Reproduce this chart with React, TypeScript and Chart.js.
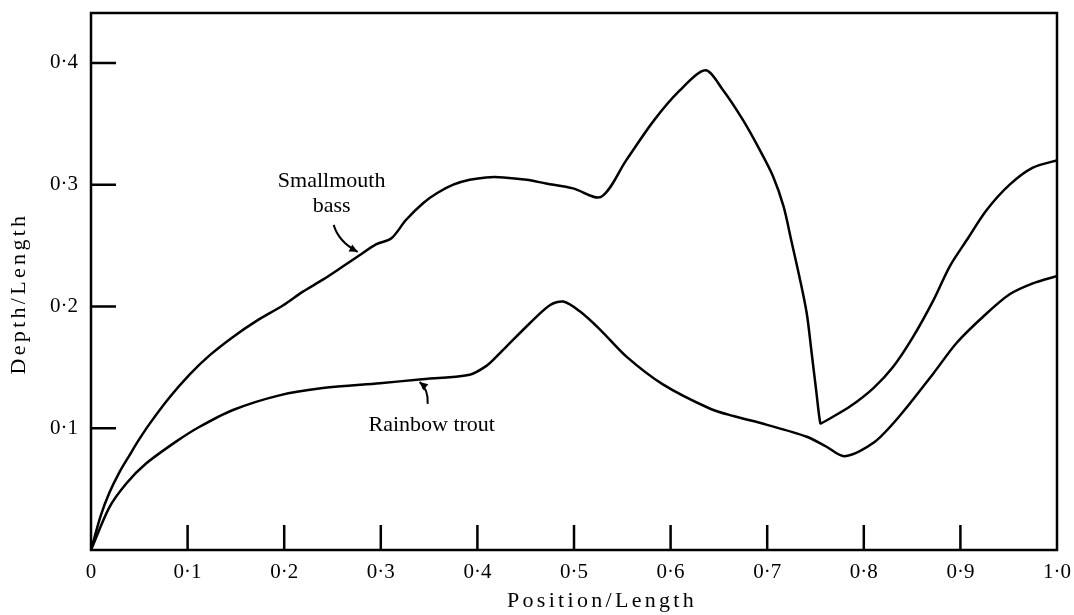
import React, { useEffect, useRef } from 'react';
import { Chart, registerables } from 'chart.js';

Chart.register(...registerables);

// Smallmouth bass profile (Position/Length -> Depth/Length)
const bassX = [0, 0.01, 0.019, 0.0295, 0.04, 0.05, 0.061, 0.081, 0.102, 0.123, 0.147, 0.171, 0.199, 0.219, 0.24, 0.261, 0.278, 0.295, 0.311, 0.326, 0.344, 0.358, 0.375, 0.392, 0.409, 0.427, 0.451, 0.471, 0.499, 0.528, 0.554, 0.582, 0.609, 0.636, 0.654, 0.675, 0.692, 0.706, 0.717, 0.725, 0.734, 0.741, 0.746, 0.751, 0.755, 0.757, 0.765, 0.786, 0.81, 0.83, 0.851, 0.872, 0.889, 0.907, 0.927, 0.951, 0.975, 1.0];
const bassY = [0, 0.028, 0.047, 0.064, 0.078, 0.091, 0.104, 0.125, 0.144, 0.16, 0.175, 0.188, 0.201, 0.212, 0.222, 0.233, 0.242, 0.251, 0.256, 0.271, 0.285, 0.293, 0.3, 0.304, 0.306, 0.306, 0.304, 0.301, 0.297, 0.29, 0.32, 0.352, 0.377, 0.394, 0.378, 0.353, 0.329, 0.307, 0.282, 0.254, 0.222, 0.194, 0.162, 0.129, 0.104, 0.1045, 0.108, 0.118, 0.133, 0.15, 0.175, 0.205, 0.233, 0.255, 0.279, 0.3, 0.314, 0.32];

// Rainbow trout profile
const troutX = [0, 0.019, 0.037, 0.057, 0.088, 0.112, 0.147, 0.195, 0.24, 0.299, 0.34, 0.392, 0.409, 0.42, 0.43, 0.454, 0.475, 0.489, 0.506, 0.527, 0.554, 0.592, 0.641, 0.665, 0.699, 0.741, 0.761, 0.78, 0.81, 0.837, 0.872, 0.896, 0.924, 0.951, 0.975, 1.0];
const troutY = [0, 0.035, 0.055, 0.071, 0.089, 0.101, 0.115, 0.127, 0.133, 0.137, 0.14, 0.144, 0.151, 0.159, 0.167, 0.186, 0.201, 0.204, 0.196, 0.181, 0.159, 0.136, 0.116, 0.11, 0.103, 0.093, 0.085, 0.077, 0.088, 0.11, 0.145, 0.17, 0.192, 0.21, 0.219, 0.225];

const xTicks = [0, 0.1, 0.2, 0.3, 0.4, 0.5, 0.6, 0.7, 0.8, 0.9, 1.0];
const xTickLabels = ['0', '0·1', '0·2', '0·3', '0·4', '0·5', '0·6', '0·7', '0·8', '0·9', '1·0'];
const yTicks = [0.1, 0.2, 0.3, 0.4];
const yTickLabels = ['0·1', '0·2', '0·3', '0·4'];
const xInnerTicks = [0.1, 0.2, 0.3, 0.4, 0.5, 0.6, 0.7, 0.8, 0.9];

const FONT = '"Liberation Serif", "Times New Roman", serif';

const drawArrow = (ctx: CanvasRenderingContext2D, sx: number, sy: number, cx: number, cy: number, tx: number, ty: number) => {
  ctx.beginPath();
  ctx.moveTo(sx, sy);
  ctx.quadraticCurveTo(cx, cy, tx, ty);
  ctx.stroke();
  const ang = Math.atan2(ty - cy, tx - cx);
  const len = 9;
  const w = 0.45;
  ctx.beginPath();
  ctx.moveTo(tx, ty);
  ctx.lineTo(tx - len * Math.cos(ang - w), ty - len * Math.sin(ang - w));
  ctx.lineTo(tx - len * Math.cos(ang + w), ty - len * Math.sin(ang + w));
  ctx.closePath();
  ctx.fill();
};

const decorPlugin = {
  id: 'decor',
  afterDatasetsDraw(chart: any) {
    const { ctx, chartArea: a, scales } = chart;
    const sx = scales.x;
    const sy = scales.y;
    ctx.save();
    ctx.strokeStyle = '#000';
    ctx.fillStyle = '#000';
    ctx.lineWidth = 2.5;
    ctx.strokeRect(a.left, a.top, a.right - a.left, a.bottom - a.top);
    ctx.beginPath();
    xInnerTicks.forEach((v) => {
      const p = sx.getPixelForValue(v);
      ctx.moveTo(p, a.bottom);
      ctx.lineTo(p, a.bottom - 25);
    });
    yTicks.forEach((v) => {
      const p = sy.getPixelForValue(v);
      ctx.moveTo(a.left, p);
      ctx.lineTo(a.left + 25, p);
    });
    ctx.stroke();

    // annotations
    ctx.font = `22px ${FONT}`;
    ctx.textAlign = 'center';
    ctx.textBaseline = 'alphabetic';
    ctx.fillText('Smallmouth', sx.getPixelForValue(0.2491), sy.getPixelForValue(0.2983));
    ctx.fillText('bass', sx.getPixelForValue(0.2491), sy.getPixelForValue(0.2777));
    ctx.fillText('Rainbow trout', sx.getPixelForValue(0.3527), sy.getPixelForValue(0.0978));

    ctx.lineWidth = 2;
    drawArrow(ctx,
      sx.getPixelForValue(0.2512), sy.getPixelForValue(0.267),
      sx.getPixelForValue(0.2563), sy.getPixelForValue(0.2531),
      sx.getPixelForValue(0.276), sy.getPixelForValue(0.2449));
    drawArrow(ctx,
      sx.getPixelForValue(0.3485), sy.getPixelForValue(0.12),
      sx.getPixelForValue(0.3496), sy.getPixelForValue(0.1315),
      sx.getPixelForValue(0.3402), sy.getPixelForValue(0.138));

    // axis titles
    (ctx as any).letterSpacing = '3.3px';
    ctx.font = `22px ${FONT}`;
    ctx.textAlign = 'center';
    ctx.textBaseline = 'alphabetic';
    ctx.fillText('Position/Length', (a.left + a.right) / 2 + 28, a.bottom + 57);
    ctx.translate(25, (a.top + a.bottom) / 2 + 12);
    ctx.rotate(-Math.PI / 2);
    ctx.fillText('Depth/Length', 0, 0);
    ctx.restore();
  },
};

const zeroPad = (s: any) => {
  s.paddingTop = 0;
  s.paddingBottom = 0;
  s.paddingLeft = 0;
  s.paddingRight = 0;
};

export default function App() {
  const ref = useRef<HTMLCanvasElement | null>(null);
  useEffect(() => {
    if (!ref.current) return;
    const tickFont = { family: FONT, size: 21 };
    const lineDs = (label: string, xs: number[], ys: number[]) => ({
      label,
      data: xs.map((x, i) => ({ x, y: ys[i] })),
      borderColor: '#000',
      borderWidth: 2.5,
      pointRadius: 0,
      fill: false,
      tension: 0.3,
    });
    const chart = new Chart(ref.current, {
      type: 'line',
      data: {
        datasets: [lineDs('Smallmouth bass', bassX, bassY), lineDs('Rainbow trout', troutX, troutY)],
      },
      options: {
        animation: false,
        responsive: false,
        maintainAspectRatio: false,
        layout: { padding: { top: 13, right: 17, left: 0, bottom: 0 } },
        plugins: { legend: { display: false }, tooltip: { enabled: false } },
        scales: {
          x: {
            type: 'linear',
            min: 0,
            max: 1,
            grid: { display: false, drawTicks: false },
            border: { display: false },
            afterBuildTicks: (s: any) => {
              s.ticks = xTicks.map((v) => ({ value: v }));
            },
            afterFit: (s: any) => {
              s.height = 65;
              zeroPad(s);
            },
            ticks: {
              padding: 10,
              color: '#000',
              font: tickFont,
              maxRotation: 0,
              autoSkip: false,
              callback: (v: any) => xTickLabels[xTicks.findIndex((t) => Math.abs(t - v) < 1e-6)] ?? '',
            },
          },
          y: {
            type: 'linear',
            min: 0,
            max: 0.441,
            grid: { display: false, drawTicks: false },
            border: { display: false },
            afterBuildTicks: (s: any) => {
              s.ticks = yTicks.map((v) => ({ value: v }));
            },
            afterFit: (s: any) => {
              s.width = 91;
              zeroPad(s);
            },
            ticks: {
              padding: 13,
              color: '#000',
              font: tickFont,
              autoSkip: false,
              callback: (v: any) => yTickLabels[yTicks.findIndex((t) => Math.abs(t - v) < 1e-6)] ?? '',
            },
          },
        },
      },
      plugins: [decorPlugin],
    } as any);
    return () => chart.destroy();
  }, []);
  return (
    <div style={{ position: 'absolute', left: 0, top: 0, width: 1074, height: 615, background: '#fff' }}>
      <canvas ref={ref} width={1074} height={615} style={{ display: 'block', width: 1074, height: 615 }} />
    </div>
  );
}
